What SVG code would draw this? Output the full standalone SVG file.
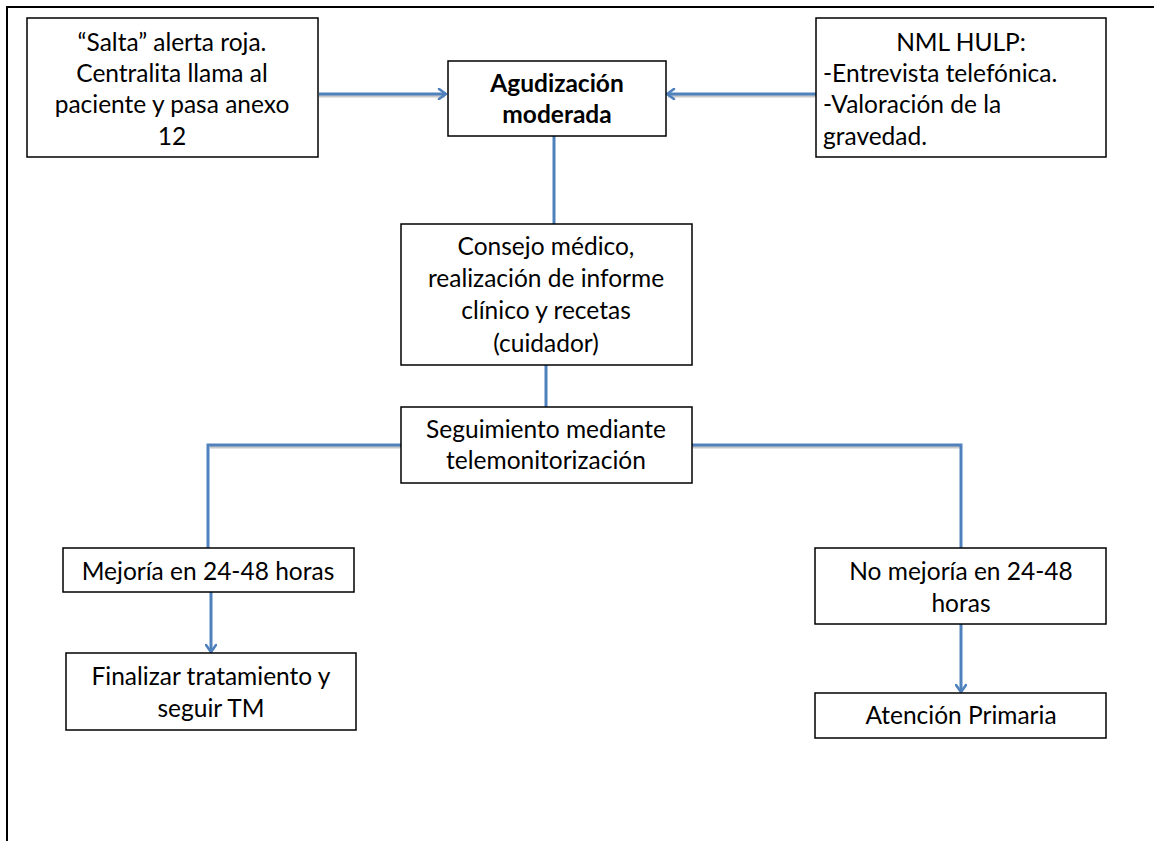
<svg xmlns="http://www.w3.org/2000/svg" width="1154" height="841" viewBox="0 0 1154 841">
  <style>
    .box { fill: #ffffff; stroke: #000000; stroke-width: 1.5; }
    .t { font-family: Lato, "Liberation Sans", sans-serif; font-size: 24.5px; fill: #000000; }
    .c { text-anchor: middle; }
    .b { font-weight: bold; }
    .edge { fill: none; stroke: #4F81BD; stroke-width: 3; }
    .shadow { fill: none; stroke: #c8c8c8; stroke-width: 3; }
  </style>
  <defs>
    <marker id="arrow" viewBox="0 0 12 12" refX="10" refY="6" markerWidth="12" markerHeight="12" markerUnits="userSpaceOnUse" orient="auto">
      <path d="M3,1 L10,6 L3,11" fill="none" stroke="#4F81BD" stroke-width="2.6" stroke-linecap="round" stroke-linejoin="round"/>
    </marker>
  </defs>
  <rect x="0" y="0" width="1154" height="841" fill="#ffffff"/>

  <!-- page frame -->
  <path d="M7,841 L7,7 L1154,7" fill="none" stroke="#000000" stroke-width="2"/>

  <!-- connectors -->
  <g id="connectors">
    <path class="shadow" d="M319,96 L445,96 M816,96 L668,96 M210,447 L401,447 M692,447 L962,447"/>
    <path class="edge" d="M319,94 L446,94" marker-end="url(#arrow)"/>
    <path class="edge" d="M816,94 L667,94" marker-end="url(#arrow)"/>
    <path class="edge" d="M554,136 L554,224"/>
    <path class="edge" d="M546,365 L546,407"/>
    <path class="edge" d="M401,445 L208,445 L208,548"/>
    <path class="edge" d="M692,445 L961,445 L961,548"/>
    <path class="edge" d="M211,592 L211,652" marker-end="url(#arrow)"/>
    <path class="edge" d="M961,624 L961,692" marker-end="url(#arrow)"/>
  </g>

  <g id="alerta">
    <rect class="box" x="27" y="18" width="291" height="139"/>
    <text class="t c" x="172" y="51">“Salta” alerta roja.</text>
    <text class="t c" x="172" y="82">Centralita llama al</text>
    <text class="t c" x="172" y="113">paciente y pasa anexo</text>
    <text class="t c" x="172" y="145">12</text>
  </g>

  <g id="agudizacion">
    <rect class="box" x="448" y="61" width="218" height="75"/>
    <text class="t c b" x="557" y="92">Agudización</text>
    <text class="t c b" x="557" y="123">moderada</text>
  </g>

  <g id="nml">
    <rect class="box" x="816" y="18" width="290" height="139"/>
    <text class="t c" x="961" y="51">NML HULP:</text>
    <text class="t" x="823" y="82">-Entrevista telefónica.</text>
    <text class="t" x="823" y="113">-Valoración de la</text>
    <text class="t" x="823" y="145">gravedad.</text>
  </g>

  <g id="consejo">
    <rect class="box" x="401" y="224" width="291" height="141"/>
    <text class="t c" x="546" y="255">Consejo médico,</text>
    <text class="t c" x="546" y="287">realización de informe</text>
    <text class="t c" x="546" y="319">clínico y recetas</text>
    <text class="t c" x="546" y="352">(cuidador)</text>
  </g>

  <g id="seguimiento">
    <rect class="box" x="401" y="407" width="291" height="76"/>
    <text class="t c" x="546" y="438">Seguimiento mediante</text>
    <text class="t c" x="546" y="469">telemonitorización</text>
  </g>

  <g id="mejoria">
    <rect class="box" x="63" y="548" width="291" height="44"/>
    <text class="t c" x="208" y="580">Mejoría en 24-48 horas</text>
  </g>

  <g id="finalizar">
    <rect class="box" x="66" y="653" width="290" height="77"/>
    <text class="t c" x="211" y="685">Finalizar tratamiento y</text>
    <text class="t c" x="211" y="717">seguir TM</text>
  </g>

  <g id="no-mejoria">
    <rect class="box" x="815" y="548" width="291" height="76"/>
    <text class="t c" x="961" y="580">No mejoría en 24-48</text>
    <text class="t c" x="961" y="612">horas</text>
  </g>

  <g id="atencion">
    <rect class="box" x="815" y="693" width="291" height="45"/>
    <text class="t c" x="961" y="724">Atención Primaria</text>
  </g>
</svg>
